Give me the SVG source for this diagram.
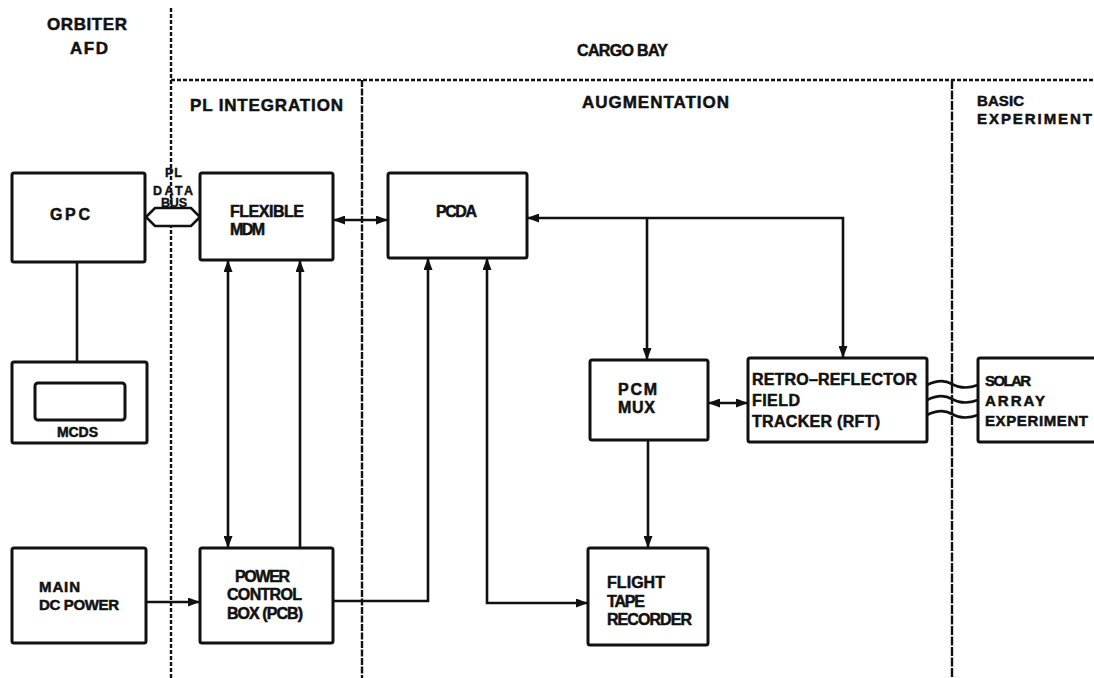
<svg xmlns="http://www.w3.org/2000/svg" width="1094" height="678" viewBox="0 0 1094 678">
<style>
.t{font-family:"Liberation Sans",Arial,sans-serif;font-weight:bold;font-size:16px;fill:#111;stroke:#111;stroke-width:0.5}
.h{font-size:17px}
.m{font-size:15px}
.s{font-size:12.5px;stroke-width:0.4}
.box{fill:#fff;stroke:#111;stroke-width:3}
.c{fill:none;stroke:#111;stroke-width:2.6}
.b{fill:none;stroke:#111;stroke-width:2.4}
</style>
<defs>
<marker id="ah" viewBox="0 0 12 9" refX="12" refY="4.5" markerWidth="12" markerHeight="9" markerUnits="userSpaceOnUse" orient="auto-start-reverse">
<path d="M0,0 L12,4.5 L0,9 z" fill="#111"/>
</marker>
</defs>
<rect width="1094" height="678" fill="#fff"/>
<g id="regions">
<path class="b" d="M171,8 V678" stroke-dasharray="4 2"/>
<path class="b" d="M171,80 H1094" stroke-dasharray="4 2"/>
<path class="b" d="M362,80 V678" stroke-dasharray="7 1.5"/>
<path class="b" d="M952,80 V678" stroke-dasharray="9 1.5"/>
<text class="t h" x="47" y="30" textLength="80">ORBITER</text>
<text class="t h" x="70" y="54" textLength="38">AFD</text>
<text class="t" x="577" y="56" textLength="91">CARGO BAY</text>
<text class="t h" x="190" y="111" textLength="153">PL INTEGRATION</text>
<text class="t h" x="582" y="108" textLength="147">AUGMENTATION</text>
<text class="t m" x="977" y="106" textLength="47">BASIC</text>
<text class="t m" x="977" y="124" textLength="115">EXPERIMENT</text>
</g>
<g id="connectors">
<path class="c" d="M77,262 V362"/>
<path class="c" d="M146,602 H200" marker-end="url(#ah)"/>
<path class="c" d="M333,220 H388" marker-start="url(#ah)" marker-end="url(#ah)"/>
<path class="c" d="M228,260 V548" marker-start="url(#ah)" marker-end="url(#ah)"/>
<path class="c" d="M300,548 V260" marker-end="url(#ah)"/>
<path class="c" d="M333,601 H428 V258" marker-end="url(#ah)"/>
<path class="c" d="M487,258 V603 H588" marker-start="url(#ah)" marker-end="url(#ah)"/>
<path class="c" d="M527,218 H843 V358" marker-start="url(#ah)" marker-end="url(#ah)"/>
<path class="c" d="M647,218 V360" marker-end="url(#ah)"/>
<path class="c" d="M708,403 H748" marker-start="url(#ah)" marker-end="url(#ah)"/>
<path class="c" d="M648,440 V548" marker-end="url(#ah)"/>
<path class="c" d="M927,385 C937,380 945,380 952,384 S967,389 978,385"/>
<path class="c" d="M927,400 C937,395 945,395 952,399 S967,404 978,400"/>
<path class="c" d="M927,415 C937,410 945,410 952,414 S967,419 978,415"/>
<g id="pl-data-bus">
<path d="M146,217 L155,208 H191 L200,217 L191,226 H155 Z" fill="#fff" stroke="#111" stroke-width="2.6"/>
<text class="t s" x="165" y="177" textLength="17">PL</text>
<text class="t s" x="153" y="195" textLength="40">DATA</text>
<text class="t s" x="161" y="207" textLength="26">BUS</text>
</g>
</g>
<g id="gpc">
<rect class="box" x="12" y="173" width="133" height="89" rx="2"/>
<text class="t" x="50" y="220" textLength="40">GPC</text>
</g>
<g id="mcds">
<rect class="box" x="12" y="362" width="135" height="81" rx="2"/>
<rect class="box" x="35" y="383" width="90" height="37" rx="3"/>
<text class="t" x="57" y="437" textLength="41" style="font-size:14px">MCDS</text>
</g>
<g id="main-dc-power">
<rect class="box" x="12" y="548" width="134" height="95" rx="2"/>
<text class="t m" x="39" y="592" textLength="41">MAIN</text>
<text class="t m" x="39" y="610" textLength="80">DC POWER</text>
</g>
<g id="flexible-mdm">
<rect class="box" x="200" y="173" width="133" height="87" rx="2"/>
<text class="t" x="230" y="217" textLength="74">FLEXIBLE</text>
<text class="t" x="230" y="235" textLength="35">MDM</text>
</g>
<g id="pcb">
<rect class="box" x="200" y="548" width="133" height="95" rx="2"/>
<text class="t" x="235" y="582" textLength="55">POWER</text>
<text class="t" x="227" y="600" textLength="75">CONTROL</text>
<text class="t" x="227" y="619" textLength="76">BOX (PCB)</text>
</g>
<g id="pcda">
<rect class="box" x="388" y="173" width="139" height="85" rx="2"/>
<text class="t" x="436" y="217" textLength="41">PCDA</text>
</g>
<g id="pcm-mux">
<rect class="box" x="590" y="360" width="118" height="80" rx="2"/>
<text class="t" x="618" y="395" textLength="39">PCM</text>
<text class="t" x="618" y="413" textLength="37">MUX</text>
</g>
<g id="rft">
<rect class="box" x="748" y="358" width="179" height="84" rx="2"/>
<text class="t" x="752" y="385" textLength="165">RETRO–REFLECTOR</text>
<text class="t" x="752" y="406" textLength="48">FIELD</text>
<text class="t" x="752" y="427" textLength="128">TRACKER (RFT)</text>
</g>
<g id="solar-array">
<rect class="box" x="978" y="358" width="130" height="84" rx="2"/>
<text class="t m" x="985" y="386" textLength="46">SOLAR</text>
<text class="t m" x="985" y="406" textLength="60">ARRAY</text>
<text class="t m" x="985" y="426" textLength="103">EXPERIMENT</text>
</g>
<g id="flight-tape-recorder">
<rect class="box" x="588" y="548" width="120" height="97" rx="2"/>
<text class="t" x="607" y="588" textLength="58">FLIGHT</text>
<text class="t" x="607" y="607" textLength="38">TAPE</text>
<text class="t" x="607" y="625" textLength="85">RECORDER</text>
</g>
</svg>
